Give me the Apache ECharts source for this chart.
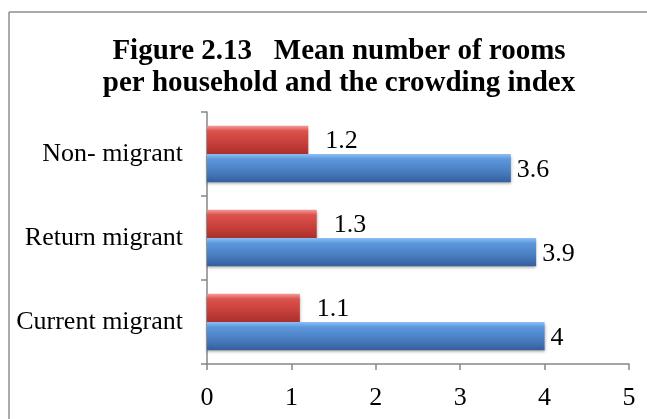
<!DOCTYPE html>
<html><head><meta charset="utf-8">
<script src="https://cdn.jsdelivr.net/npm/echarts@6/dist/echarts.min.js"></script>
<style>html,body{margin:0;padding:0;background:#fff}#c{width:647px;height:419px}</style>
</head><body><div id="c"></div>
<script>
const titleLines = ['Figure 2.13   Mean number of rooms', 'per household and the crowding index'];
const categories = ['Current migrant', 'Return migrant', 'Non- migrant'];
const crowdingIndex = [1.1, 1.3, 1.2];
const meanRooms = [4, 3.9, 3.6];
const xMin = 0, xMax = 5, xStep = 1;

const FONT = '"Liberation Serif", "Times New Roman", serif';
const chart = echarts.init(document.getElementById('c'), null, {renderer: 'canvas'});

function grad(stops) {
  return new echarts.graphic.LinearGradient(0, 0, 0, 1, stops.map((c) => ({offset: c[0], color: c[1]})));
}

chart.setOption({
  animation: false,
  backgroundColor: '#ffffff',
  grid: {left: 207, right: 18, top: 112, bottom: 55, containLabel: false},
  xAxis: {
    type: 'value', min: xMin, max: xMax, interval: xStep,
    axisLine: {show: true, lineStyle: {color: '#868686', width: 1.5}},
    axisTick: {show: true, length: 6, lineStyle: {color: '#868686', width: 1.5}},
    splitLine: {show: false},
    axisLabel: {color: '#000', fontFamily: FONT, fontSize: 26, margin: 21}
  },
  yAxis: {
    type: 'category', data: categories,
    axisLine: {show: true, lineStyle: {color: '#868686', width: 1.5}},
    axisTick: {show: true, length: 6, lineStyle: {color: '#868686', width: 1.5}},
    axisLabel: {color: '#000', fontFamily: FONT, fontSize: 26, margin: 24}
  },
  series: [
    {
      name: 'Crowding index', type: 'bar', data: crowdingIndex,
      barGap: '0%', barCategoryGap: '33%',
      itemStyle: {
        color: grad([[0, '#f29a96'], [0.18, '#dc524d'], [0.6, '#c8403b'], [1, '#a8302c']]),
        shadowColor: 'rgba(0,0,0,0.35)', shadowBlur: 3, shadowOffsetY: 2
      },
      label: {show: true, position: 'right', distance: 17, color: '#000', fontFamily: FONT, fontSize: 26, offset: [0, 1]}
    },
    {
      name: 'Mean rooms', type: 'bar', data: meanRooms,
      barGap: '0%', barCategoryGap: '33%',
      itemStyle: {
        color: grad([[0, '#8cc0f5'], [0.18, '#5d98dc'], [0.6, '#4a7fc2'], [1, '#355f9c']]),
        shadowColor: 'rgba(0,0,0,0.35)', shadowBlur: 3, shadowOffsetY: 2
      },
      label: {show: true, position: 'right', distance: 6, color: '#000', fontFamily: FONT, fontSize: 26, offset: [0, 2]}
    }
  ],
  graphic: [
    {type: 'line', shape: {x1: 9, y1: 12, x2: 647, y2: 12}, style: {stroke: '#8e8e8e', lineWidth: 1.5}},
    {type: 'line', shape: {x1: 9, y1: 12, x2: 9, y2: 419}, style: {stroke: '#8e8e8e', lineWidth: 1.5}},
    {type: 'text', x: 339, y: 52, style: {text: titleLines[0], font: 'bold 29px ' + FONT, fill: '#000', textAlign: 'center', textVerticalAlign: 'middle'}},
    {type: 'text', x: 339, y: 84, style: {text: titleLines[1], font: 'bold 29px ' + FONT, fill: '#000', textAlign: 'center', textVerticalAlign: 'middle'}}
  ]
});
</script></body></html>
